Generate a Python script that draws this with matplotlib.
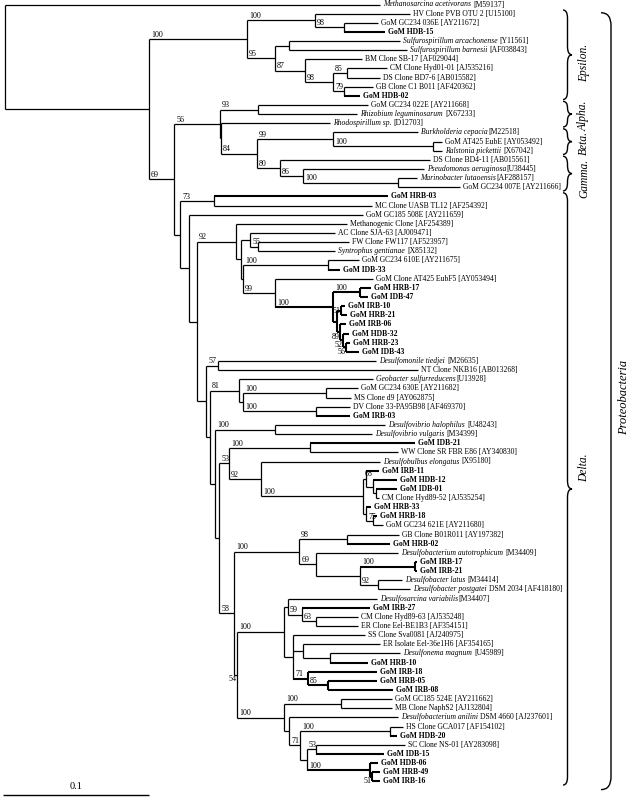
import re
import matplotlib
matplotlib.use('Agg')
import matplotlib.pyplot as plt
from matplotlib.path import Path
from matplotlib.patches import PathPatch

plt.rcParams['font.family'] = 'Liberation Serif'

# leaves, top to bottom  (_..._ = italic part)
leaf_names = [
    '_Methanosarcina acetivorans_ [M59137]', 'HV Clone PVB OTU 2 [U15100]',
    'GoM GC234 036E [AY211672]', 'GoM HDB-15',
    '_Sulfurospirillum arcachonense_ [Y11561]', '_Sulfurospirillum barnesii_ [AF038843]',
    'BM Clone SB-17 [AF029044]', 'CM Clone Hyd01-01 [AJ535216]',
    'DS Clone BD7-6 [AB015582]', 'GB Clone C1 B011 [AF420362]', 'GoM HDB-02',
    'GoM GC234 022E [AY211668]', '_Rhizobium leguminosarum_ [X67233]',
    '_Rhodospirillum sp._ [D12703]', '_Burkholderia cepacia_[M22518]',
    'GoM AT425 EubE [AY053492]', '_Ralstonia pickettii_ [X67042]',
    'DS Clone BD4-11 [AB015561]', '_Pseudomonas aeruginosa_[U38445]',
    '_Marinobacter lutaoensis_[AF288157]', 'GoM GC234 007E [AY211666]',
    'GoM HRB-03', 'MC Clone UASB TL12 [AF254392]', 'GoM GC185 508E [AY211659]',
    'Methanogenic Clone [AF254389]', 'AC Clone SJA-63 [AJ009471]',
    'FW Clone FW117 [AF523957]', '_Syntrophus gentianae_ [X85132]',
    'GoM GC234 610E [AY211675]', 'GoM IDB-33', 'GoM Clone AT425 EubF5 [AY053494]',
    'GoM HRB-17', 'GoM IDB-47', 'GoM IRB-10', 'GoM HRB-21', 'GoM IRB-06',
    'GoM HDB-32', 'GoM HRB-23', 'GoM IDB-43',
    '_Desulfomonile tiedjei_ [M26635]', 'NT Clone NKB16 [AB013268]',
    '_Geobacter sulfurreducens_[U13928]', 'GoM GC234 630E [AY211682]',
    'MS Clone d9 [AY062875]', 'DV Clone 33-PA95B98 [AF469370]', 'GoM IRB-03',
    '_Desulfovibrio halophilus_ [U48243]', '_Desulfovibrio vulgaris_ [M34399]',
    'GoM IDB-21', 'WW Clone SR FBR E86 [AY340830]', '_Desulfobulbus elongatus_ [X95180]',
    'GoM IRB-11', 'GoM HDB-12', 'GoM IDB-01', 'CM Clone Hyd89-52 [AJ535254]',
    'GoM HRB-33', 'GoM HRB-18', 'GoM GC234 621E [AY211680]',
    'GB Clone B01R011 [AY197382]', 'GoM HRB-02',
    '_Desulfobacterium autotrophicum_ [M34409]', 'GoM IRB-17', 'GoM IRB-21',
    '_Desulfobacter latus_ [M34414]', '_Desulfobacter postgatei_ DSM 2034 [AF418180]',
    '_Desulfosarcina variabilis_[M34407]', 'GoM IRB-27',
    'CM Clone Hyd89-63 [AJ535248]', 'ER Clone Eel-BE1B3 [AF354151]',
    'SS Clone Sva0081 [AJ240975]', 'ER Isolate Eel-36e1H6 [AF354165]',
    '_Desulfonema magnum_ [U45989]', 'GoM HRB-10', 'GoM IRB-18', 'GoM HRB-05',
    'GoM IRB-08', 'GoM GC185 524E [AY211662]', 'MB Clone NaphS2 [AJ132804]',
    '_Desulfobacterium anilini_ DSM 4660 [AJ237601]', 'HS Clone GCA017 [AF154102]',
    'GoM HDB-20', 'SC Clone NS-01 [AY283098]', 'GoM IDB-15', 'GoM HDB-06',
    'GoM HRB-49', 'GoM IRB-16',
]

# distance from root to tip
leaf_depth = [
    0.2568, 0.2774, 0.2555, 0.2603, 0.2705, 0.2753, 0.2445, 0.2616, 0.2568, 0.2521,
    0.2432, 0.2486, 0.2411, 0.2226, 0.2829, 0.2993, 0.2993, 0.2911, 0.2870, 0.2822,
    0.3116, 0.2623, 0.2514, 0.2452, 0.2342, 0.2260, 0.2356, 0.2260, 0.2425, 0.2295,
    0.2521, 0.2507, 0.2486, 0.2329, 0.2342, 0.2336, 0.2356, 0.2363, 0.2425, 0.2541,
    0.2829, 0.2521, 0.2418, 0.2370, 0.2363, 0.2363, 0.2603, 0.2514, 0.2808, 0.2692,
    0.2568, 0.2562, 0.2685, 0.2685, 0.2562, 0.2507, 0.2548, 0.2589, 0.2699, 0.2637,
    0.2692, 0.2822, 0.2822, 0.2719, 0.2774, 0.2548, 0.2500, 0.2418, 0.2418, 0.2466,
    0.2568, 0.2705, 0.2486, 0.2548, 0.2548, 0.2658, 0.2651, 0.2651, 0.2692, 0.2726,
    0.2685, 0.2740, 0.2596, 0.2555, 0.2568, 0.2568,
]

leaf_parent = [
    'root', 'e1', 'e2', 'e2', 'e4', 'e4', 'e5', 'e7', 'e7', 'e8', 'e8',
    'a1', 'a1', 'a2', 'b1', 'b2', 'b2', 'g1', 'g2', 'g3', 'g3',
    'd1', 'd1', 'd2', 'd4', 'd6', 'd7', 'd7', 'd9', 'd9', 'd10', 'd12', 'd12',
    'd14', 'd14', 'd15', 'd16', 'd17', 'd17', 'd19', 'd19', 'd21', 'd23', 'd23',
    'd24', 'd24', 'd26', 'd26', 'd29', 'd29', 'd30', 'd32', 'd33', 'd34', 'd34',
    'd35', 'd36', 'd36', 'd39', 'd39', 'd40', 'd42', 'd42', 'd43', 'd43', 'd46',
    'd47', 'd48', 'd48', 'd49', 'd50', 'd51', 'd51', 'd52', 'd53', 'd53', 'd55',
    'd55', 'd56', 'd58', 'd58', 'd60', 'd60', 'd61', 'd62', 'd62',
]

# internal nodes (parents listed before children)
node_ids = [
    'root', 'in', 'eps', 'e1', 'e2', 'e3', 'e4', 'e5', 'e6', 'e7', 'e8',
    'rest', 'abg', 'a1', 'a2', 'bg', 'b1', 'b2', 'g1', 'g2', 'g3',
    'del', 'd1', 'd2', 'd3', 'd4', 'd5', 'd6', 'd7', 'd8', 'd9', 'd10', 'd11',
    'd12', 'd13', 'd14', 'd15', 'd16', 'd17', 'd18', 'd19', 'd20', 'd21', 'd22',
    'd23', 'd24', 'd25', 'd26', 'd27', 'd28', 'd29', 'd30', 'd31', 'd32', 'd33',
    'd34', 'd35', 'd36', 'd37', 'd38', 'd39', 'd40', 'd41', 'd42', 'd43', 'd44',
    'd45', 'd46', 'd47', 'd48', 'd49', 'd50', 'd51', 'd52', 'd53', 'd54', 'd55',
    'd56', 'd57', 'd58', 'd59', 'd60', 'd61', 'd62',
]
node_parent = [
    None, 'root', 'in', 'eps', 'e1', 'eps', 'e3', 'e3', 'e5', 'e6', 'e6',
    'in', 'rest', 'abg', 'abg', 'a2', 'bg', 'b1', 'bg', 'g1', 'g2',
    'rest', 'del', 'del', 'd2', 'd3', 'd4', 'd5', 'd6', 'd5', 'd8', 'd8', 'd10',
    'd11', 'd11', 'd13', 'd13', 'd15', 'd16', 'd3', 'd18', 'd18', 'd20', 'd21',
    'd22', 'd22', 'd20', 'd25', 'd25', 'd27', 'd28', 'd28', 'd30', 'd31', 'd32',
    'd33', 'd31', 'd35', 'd27', 'd37', 'd38', 'd38', 'd40', 'd41', 'd41', 'd37',
    'd44', 'd45', 'd46', 'd47', 'd45', 'd49', 'd50', 'd49', 'd52', 'd44', 'd54',
    'd54', 'd56', 'd57', 'd57', 'd59', 'd59', 'd61',
]
node_depth = [
    0.0, 0.0986, 0.1658, 0.2123, 0.2322, 0.1849, 0.1945, 0.2055, 0.2247, 0.2342, 0.2322,
    0.1158, 0.1473, 0.1733, 0.1479, 0.1726, 0.2247, 0.2932, 0.1884, 0.2041, 0.2692,
    0.1199, 0.1432, 0.1260, 0.1315, 0.1582, 0.1616, 0.1678, 0.1733, 0.1630, 0.2212,
    0.1849, 0.2247, 0.2432, 0.2274, 0.2301, 0.2295, 0.2315, 0.2336, 0.1377, 0.1459,
    0.1404, 0.1603, 0.1630, 0.2199, 0.2130, 0.1438, 0.1849, 0.1466, 0.1534, 0.2089,
    0.1753, 0.2452, 0.2473, 0.2521, 0.2541, 0.2473, 0.2521, 0.1568, 0.2014, 0.2342,
    0.2130, 0.2432, 0.2808, 0.2555, 0.1589, 0.1911, 0.1938, 0.2034, 0.2130, 0.1973,
    0.2041, 0.2226, 0.2075, 0.2212, 0.1911, 0.2301, 0.1945, 0.2021, 0.2637, 0.2068,
    0.2130, 0.2500, 0.2514,
]
node_support = [
    None, None, 100, 100, 98, 95, None, 87, 98, 85, 79,
    69, 56, 93, None, 84, 99, 100, 80, 86, 100,
    None, 73, None, None, 92, None, None, 55, None, 100, 99, 100,
    100, None, 51, 89, 52, 56, None, 57, None, 81, None,
    100, 100, None, 100, None, 53, 100, 92, 100, 68, None,
    None, None, 75, 58, 100, 98, 69, None, 100, 92, 54,
    100, None, 59, 63, None, None, None, 71, 85, 100, 100,
    None, 71, 100, None, 53, 100, 51,
]

groups = ['Epsilon.', 'Alpha.', 'Beta.', 'Gamma.', 'Delta.']
group_first = [1, 11, 14, 17, 21]
group_last = [10, 13, 16, 20, 85]
phylum = 'Proteobacteria'
scale_len = 0.1

# ---------------------------------------------------------------
PX = 1460.0   # pixels per unit distance
PY = 9.14     # pixels per leaf row

fig = plt.figure(figsize=(6.32, 8.02), dpi=100)
ax = fig.add_axes([0, 0, 1, 1])
ax.set_xlim(-5 / PX, 627 / PX)
ax.set_ylim((802 - 4.5) / PY, -4.5 / PY)
ax.axis('off')

depth = dict(zip(node_ids, node_depth))
parent = dict(zip(node_ids, node_parent))
support = dict(zip(node_ids, node_support))
n_leaf = len(leaf_names)
is_bold = [bool(re.match(r'^GoM [HI][DR]B-\d+$', n)) for n in leaf_names]

kids_y = {n: [] for n in node_ids}
all_bold = {n: True for n in node_ids}
for i in range(n_leaf):
    kids_y[leaf_parent[i]].append(i)
    all_bold[leaf_parent[i]] &= is_bold[i]
node_y = {}
for nid in reversed(node_ids):
    ys = kids_y[nid]
    node_y[nid] = (min(ys) + max(ys)) / 2
    p = parent[nid]
    if p is not None:
        kids_y[p].append(node_y[nid])
        all_bold[p] &= all_bold[nid]

LW, LWB = 0.9, 1.5

# horizontal branches
for i in range(n_leaf):
    ax.hlines(i, depth[leaf_parent[i]], leaf_depth[i], color='black',
              lw=LWB if is_bold[i] else LW)
for nid in node_ids:
    if parent[nid] is None:
        continue
    ax.hlines(node_y[nid], depth[parent[nid]], depth[nid], color='black',
              lw=LWB if all_bold[nid] else LW)
# vertical connectors
for nid in node_ids:
    ys = kids_y[nid]
    ax.vlines(depth[nid], min(ys), max(ys), color='black',
              lw=LWB if all_bold[nid] else LW)

# leaf labels: italic species name + upright accession
FS = 5.5
for i, name in enumerate(leaf_names):
    m = re.match(r'^_(.+?)_(.*)$', name)
    if m:
        t1 = ax.annotate(m.group(1), (leaf_depth[i], i), xytext=(2.2, 0),
                         textcoords='offset points', ha='left', va='center',
                         fontsize=FS, style='italic')
        rest = m.group(2)
        gap = 1.6 if rest.startswith(' ') else 0.3
        ax.annotate(rest.strip(), xy=(1, 0.5), xycoords=t1, xytext=(gap, 0),
                    textcoords='offset points', ha='left', va='center', fontsize=FS)
    else:
        ax.annotate(name, (leaf_depth[i], i), xytext=(2.2, 0),
                    textcoords='offset points', ha='left', va='center',
                    fontsize=FS, fontweight='bold' if is_bold[i] else 'normal')

# bootstrap values
below_left = {'d15', 'd16', 'd17', 'd44', 'd62'}
left_mid = {'d14'}
for nid in node_ids:
    s = support[nid]
    if s is None:
        continue
    if nid in below_left:
        ax.annotate(str(s), (depth[nid], node_y[nid]), xytext=(-0.6, -0.2),
                    textcoords='offset points', ha='right', va='top', fontsize=5.8)
    elif nid in left_mid:
        ax.annotate(str(s), (depth[nid], node_y[nid]), xytext=(-0.6, 0),
                    textcoords='offset points', ha='right', va='center', fontsize=5.8)
    else:
        ax.annotate(str(s), (depth[parent[nid]], node_y[nid]), xytext=(1.5, 0.2),
                    textcoords='offset points', ha='left', va='bottom', fontsize=5.8)


def brace(x, y0, y1, w, r):
    xm = x + w / 2
    ym = (y0 + y1) / 2
    verts = [(x, y0), (xm, y0), (xm, y0 + r), (xm, ym - r), (xm, ym), (x + w, ym),
             (xm, ym), (xm, ym + r), (xm, y1 - r), (xm, y1), (x, y1)]
    codes = [Path.MOVETO, Path.CURVE3, Path.CURVE3, Path.LINETO, Path.CURVE3, Path.CURVE3,
             Path.CURVE3, Path.CURVE3, Path.LINETO, Path.CURVE3, Path.CURVE3]
    ax.add_patch(PathPatch(Path(verts, codes), fill=False, lw=1.0, color='black'))


def paren(x, y0, y1, w, r):
    verts = [(x, y0), (x + w, y0), (x + w, y0 + r), (x + w, y1 - r), (x + w, y1), (x, y1)]
    codes = [Path.MOVETO, Path.CURVE3, Path.CURVE3, Path.LINETO, Path.CURVE3, Path.CURVE3]
    ax.add_patch(PathPatch(Path(verts, codes), fill=False, lw=1.0, color='black'))


# small shifts of the group captions (in rows)
caption_shift = {'Epsilon.': 0.9, 'Alpha.': 0.2, 'Beta.': 0.1, 'Gamma.': 0.5, 'Delta.': -2.3}
bx, bw = (563 - 5) / PX, 9 / PX
for g, a, b in zip(groups, group_first, group_last):
    y0, y1 = a - 0.4, b + 0.4
    brace(bx, y0, y1, bw, min(0.9, (y1 - y0) / 4))
    ax.text((584 - 5) / PX, (y0 + y1) / 2 + caption_shift[g], g, rotation=90,
            ha='center', va='center', fontsize=8.3, style='italic')

paren((601 - 5) / PX, group_first[0] - 0.1, group_last[-1] + 0.9, 10 / PX, 1.4)
ax.text((624 - 5) / PX, (group_first[0] + group_last[-1]) / 2, phylum, rotation=90,
        ha='center', va='center', fontsize=9, style='italic')

# scale bar
sy = (795 - 4.5) / PY
sx0 = -2 / PX
ax.hlines(sy, sx0, sx0 + scale_len, color='black', lw=1.0)
ax.annotate('0.1', (sx0 + scale_len / 2, sy), xytext=(0, 3), textcoords='offset points',
            ha='center', va='bottom', fontsize=7.5)

fig.savefig('out.png', dpi=100)
